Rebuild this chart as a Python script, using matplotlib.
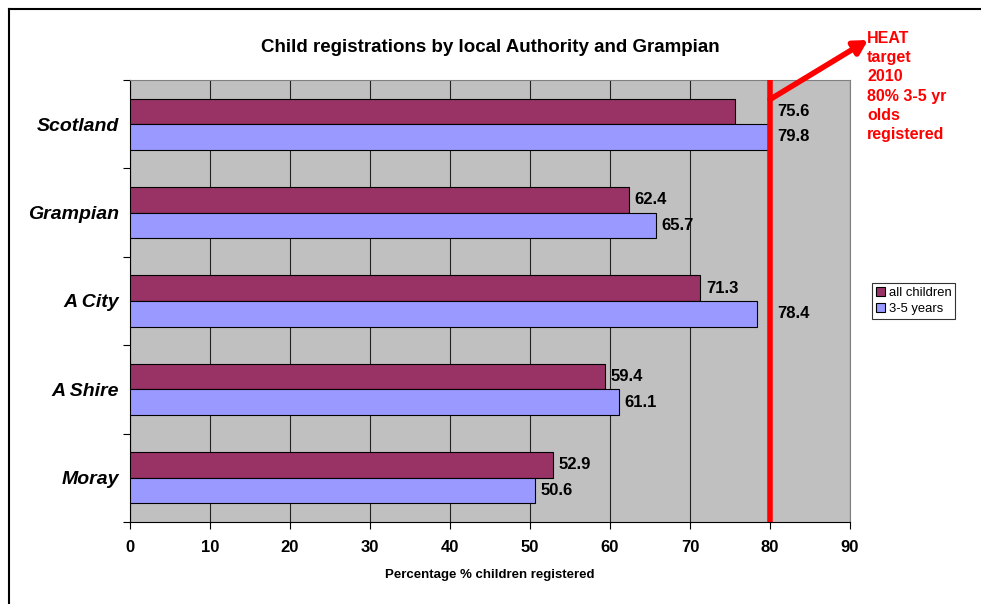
import numpy as np
import matplotlib.pyplot as plt
from matplotlib.lines import Line2D

plt.rcParams['font.family'] = ['Liberation Sans', 'DejaVu Sans']

categories = ['Scotland', 'Grampian', 'A City', 'A Shire', 'Moray']
all_children = [75.6, 62.4, 71.3, 59.4, 52.9]
three_to_five = [79.8, 65.7, 78.4, 61.1, 50.6]
target = 80

fig = plt.figure(figsize=(9.81, 6.04), dpi=100)
ax = fig.add_axes([0.1325, 0.1358, 0.734, 0.7318])
ax.set_facecolor('#C0C0C0')

# categories drawn top to bottom
pos = np.arange(len(categories))[::-1]
h = 0.29
ax.barh(pos + h / 2, all_children, height=h, color='#993366', edgecolor='black', lw=0.8,
        label='all children', zorder=3)
ax.barh(pos - h / 2, three_to_five, height=h, color='#9999FF', edgecolor='black', lw=0.8,
        label='3-5 years', zorder=3)


def label_x(v):
    # labels that would sit on the target line are pushed past it
    if v + 5 > target:
        return target + 0.9
    return v + 0.7


for p, a, b in zip(pos, all_children, three_to_five):
    ax.text(label_x(a), p + h / 2, f'{a:.1f}', va='center', ha='left', fontsize=12, fontweight='bold', zorder=5)
    ax.text(label_x(b), p - h / 2, f'{b:.1f}', va='center', ha='left', fontsize=12, fontweight='bold', zorder=5)

ax.set_xlim(0, 90)
ax.set_ylim(-0.5, len(categories) - 0.5)
ax.set_xticks(range(0, 91, 10))
ax.set_xticklabels([str(v) for v in range(0, 91, 10)], fontsize=12, fontweight='bold')
ax.set_yticks(np.arange(-0.5, len(categories), 1.0))
ax.set_yticklabels([])
ax.set_yticks(pos, minor=True)
ax.set_yticklabels(categories, minor=True, fontsize=14, fontweight='bold', style='italic')
ax.tick_params(axis='y', which='minor', length=0, pad=8)
ax.tick_params(axis='y', which='major', length=5, direction='out', width=0.8)
ax.tick_params(axis='x', length=5, direction='out', width=0.8, pad=8)
ax.grid(axis='x', color='#222222', lw=0.8, zorder=1)
for s in ['top', 'right']:
    ax.spines[s].set_color('#808080')
for s in ['left', 'bottom']:
    ax.spines[s].set_color('black')

ax.axvline(target, color='red', lw=4, zorder=4)
ax.annotate('', xy=(868, 604 - 40), xycoords='figure pixels',
            xytext=(target, 4.28), textcoords='data',
            arrowprops=dict(arrowstyle='-|>,head_length=0.8,head_width=0.45', color='red', lw=4,
                            shrinkA=0, shrinkB=0), zorder=6, annotation_clip=False)
fig.text(867 / 981, 1 - 31 / 604, 'HEAT\ntarget\n2010\n80% 3-5 yr\nolds\nregistered', color='red',
         fontsize=11.5, fontweight='bold', va='top', ha='left', linespacing=1.35)

ax.set_title('Child registrations by local Authority and Grampian', fontsize=13.5, fontweight='bold', pad=20)
ax.set_xlabel('Percentage % children registered', fontsize=9.5, fontweight='bold', labelpad=10)

leg = ax.legend(loc='center left', bbox_to_anchor=(1.03, 0.5), fontsize=9.4, frameon=True, fancybox=False,
                edgecolor='black', handlelength=0.7, handleheight=0.7, handletextpad=0.3,
                borderpad=0.3, labelspacing=0.35, borderaxespad=0)
leg.get_frame().set_linewidth(0.8)

# outer chart border (left and top visible)
fig.add_artist(Line2D([9 / 981, 9 / 981], [0, 1 - 9 / 604], color='black', lw=1.5, transform=fig.transFigure))
fig.add_artist(Line2D([9 / 981, 1], [1 - 9 / 604, 1 - 9 / 604], color='black', lw=1.5, transform=fig.transFigure))

fig.savefig('out.png', dpi=100)
